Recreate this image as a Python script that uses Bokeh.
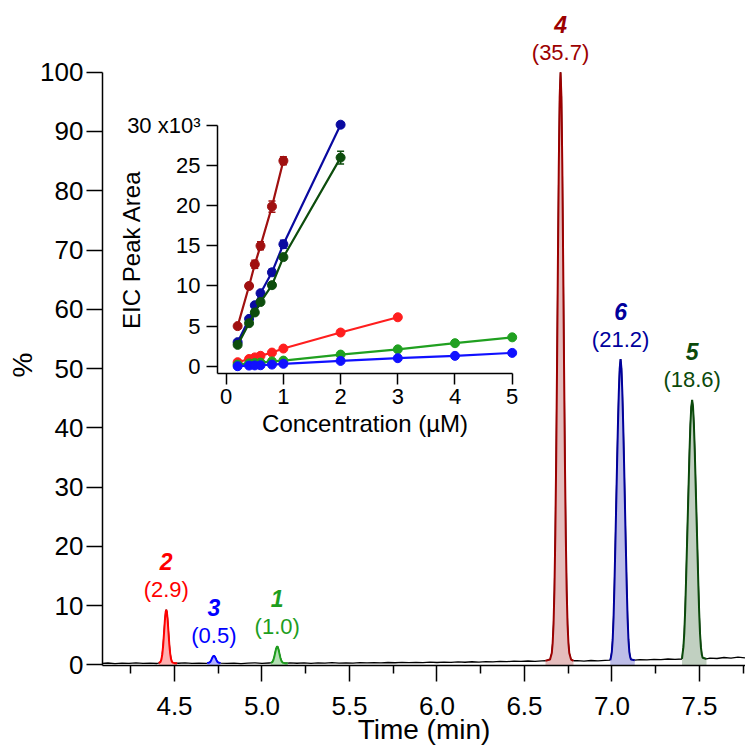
from bokeh.plotting import figure
from bokeh.models import (Range1d, LinearAxis, FixedTicker, ColumnDataSource,
                          PrintfTickFormatter, Title)
from bokeh.core.properties import value
from bokeh.embed import file_html
from bokeh.resources import INLINE

FONT = "Liberation Sans"

# ---------------- chromatogram (main plot) ----------------
base_t = [4.08, 4.12, 4.16, 4.20, 4.24, 4.28, 4.32, 4.36, 4.40, 4.44,
          4.48, 4.52, 4.56, 4.60, 4.64, 4.68, 4.72, 4.76, 4.80, 4.84,
          4.88, 4.92, 4.96, 5.00, 5.04, 5.08, 5.12, 5.16, 5.20, 5.24,
          5.28, 5.32, 5.36, 5.40, 5.44, 5.48, 5.52, 5.56, 5.60, 5.64,
          5.68, 5.72, 5.76, 5.80, 5.84, 5.88, 5.92, 5.96, 6.00, 6.04,
          6.08, 6.12, 6.16, 6.20, 6.24, 6.28, 6.32, 6.36, 6.40, 6.44,
          6.48, 6.52, 6.56, 6.60, 6.64, 6.68, 6.72, 6.76, 6.80, 6.84,
          6.88, 6.92, 6.96, 7.00, 7.04, 7.08, 7.12, 7.16, 7.20, 7.24,
          7.28, 7.32, 7.36, 7.40, 7.44, 7.48, 7.52, 7.56, 7.60, 7.64,
          7.68, 7.72, 7.76]
base_y = [0.25, 0.32, 0.22, 0.30, 0.27, 0.35, 0.26, 0.31, 0.24, 0.30,
          0.30, 0.28, 0.33, 0.25, 0.31, 0.27, 0.30, 0.34, 0.26, 0.31,
          0.23, 0.30, 0.35, 0.27, 0.32, 0.30, 0.30, 0.36, 0.28, 0.33,
          0.26, 0.34, 0.30, 0.37, 0.29, 0.35, 0.31, 0.38, 0.33, 0.40,
          0.34, 0.41, 0.36, 0.43, 0.37, 0.44, 0.39, 0.46, 0.41, 0.48,
          0.43, 0.50, 0.45, 0.53, 0.48, 0.56, 0.52, 0.60, 0.55, 0.65,
          0.58, 0.66, 0.60, 0.68, 0.70, 0.70, 0.70, 0.70, 0.72, 0.65,
          0.74, 0.68, 0.78, 0.80, 0.80, 0.80, 0.82, 0.90, 0.84, 0.95,
          0.88, 1.00, 0.92, 1.00, 1.00, 1.00, 1.05, 1.15, 1.08, 1.25,
          1.15, 1.30, 1.20]

# peak traces (compound 2, 3, 1, 4, 6, 5)
p2_t = [4.41, 4.42, 4.425, 4.43, 4.435, 4.44, 4.445, 4.45, 4.453, 4.456,
        4.46, 4.465, 4.47, 4.475, 4.48, 4.485, 4.49, 4.50, 4.515]
p2_y = [0.3, 0.51, 0.89, 1.73, 3.22, 5.3, 7.5, 9.02, 9.3, 9.02,
        7.9, 5.76, 3.6, 1.98, 1.02, 0.56, 0.38, 0.3, 0.3]
p3_t = [4.687, 4.70, 4.705, 4.71, 4.715, 4.72, 4.725, 4.73, 4.735, 4.74, 4.745, 4.75, 4.763]
p3_y = [0.3, 0.4, 0.54, 0.79, 1.13, 1.43, 1.55, 1.43, 1.13, 0.79, 0.54, 0.4, 0.3]
p1_t = [5.051, 5.06, 5.065, 5.07, 5.075, 5.08, 5.085, 5.087, 5.09, 5.095,
        5.10, 5.105, 5.11, 5.115, 5.12, 5.13, 5.147]
p1_y = [0.33, 0.52, 0.82, 1.33, 2.0, 2.66, 3.06, 3.1, 3.01, 2.54,
        1.86, 1.21, 0.75, 0.48, 0.36, 0.3, 0.3]
p4_t = [6.62, 6.646, 6.656, 6.661, 6.666, 6.671, 6.676, 6.681, 6.686, 6.691,
        6.696, 6.701, 6.706, 6.711, 6.716, 6.721, 6.726, 6.731, 6.736, 6.741,
        6.746, 6.751, 6.756, 6.766, 6.78]
p4_y = [0.7, 0.9, 2.0, 3.7, 6.9, 12.6, 21.7, 34.4, 50.4, 68.0,
        84.2, 95.8, 100.0, 95.8, 84.2, 68.0, 50.4, 34.4, 21.7, 12.6,
        6.9, 3.7, 2.0, 0.9, 0.7]
p6_t = [6.99, 6.994, 6.999, 7.004, 7.009, 7.014, 7.019, 7.024, 7.029, 7.034,
        7.039, 7.044, 7.049, 7.054, 7.059, 7.064, 7.069, 7.074, 7.079, 7.084,
        7.089, 7.094, 7.099, 7.104, 7.109, 7.13]
p6_y = [0.8, 1.3, 2.2, 4.3, 8.0, 13.5, 20.0, 27.0, 34.0, 40.5,
        46.0, 50.0, 51.6, 50.0, 46.0, 40.5, 34.0, 27.0, 20.0, 13.5,
        8.0, 4.3, 2.2, 1.3, 0.9, 0.8]
p5_t = [7.40, 7.403, 7.408, 7.413, 7.418, 7.423, 7.428, 7.433, 7.438, 7.443,
        7.448, 7.453, 7.458, 7.463, 7.468, 7.473, 7.478, 7.483, 7.488, 7.493,
        7.498, 7.503, 7.508, 7.513, 7.518, 7.54]
p5_y = [1.0, 1.8, 3.0, 5.3, 9.0, 14.0, 19.5, 25.0, 30.5, 36.0,
        40.5, 43.5, 44.7, 43.5, 40.5, 36.0, 30.5, 25.0, 19.5, 14.0,
        9.0, 5.3, 3.0, 1.8, 1.2, 1.0]

peak_ids = ["2", "3", "1", "4", "6", "5"]
peak_amounts = ["(2.9)", "(0.5)", "(1.0)", "(35.7)", "(21.2)", "(18.6)"]
peak_colors = ["#ff0000", "#0000ff", "#1e9e1e", "#9c0000", "#00009c", "#0b4a0b"]
peak_fills = ["#ffb0b0", "#b4b4ff", "#b4e0b4", "#e5bdbd", "#bdbde8", "#c1d0c1"]

x_major = [4.5, 5.0, 5.5, 6.0, 6.5, 7.0, 7.5]
x_minor = [4.25, 4.75, 5.25, 5.75, 6.25, 6.75, 7.25, 7.75]
y_ticks = [0, 10, 20, 30, 40, 50, 60, 70, 80, 90, 100]

# ---------------- calibration (inset) ----------------
c4_x = [0.2, 0.4, 0.5, 0.6, 0.8, 1.0]
c4_y = [5.0, 10.0, 12.7, 15.0, 19.9, 25.6]
c4_e = [0.2, 0.3, 0.5, 0.5, 0.7, 0.5]
c6_x = [0.2, 0.4, 0.5, 0.6, 0.8, 1.0, 2.0]
c6_y = [3.0, 5.9, 7.6, 9.1, 11.7, 15.2, 30.1]
c6_e = [0.1, 0.2, 0.2, 0.3, 0.4, 0.5, 0.3]
c5_x = [0.2, 0.4, 0.5, 0.6, 0.8, 1.0, 2.0]
c5_y = [2.66, 5.36, 6.7, 8.0, 10.1, 13.6, 26.0]
c5_e = [0.1, 0.2, 0.3, 0.3, 0.3, 0.3, 0.8]
c2_x = [0.2, 0.4, 0.5, 0.6, 0.8, 1.0, 2.0, 3.0]
c2_y = [0.5, 0.9, 1.1, 1.3, 1.7, 2.2, 4.2, 6.1]
c2_e = [0.05, 0.05, 0.05, 0.05, 0.05, 0.05, 0.1, 0.1]
c1_x = [0.2, 0.4, 0.5, 0.6, 0.8, 1.0, 2.0, 3.0, 4.0, 5.0]
c1_y = [0.2, 0.35, 0.4, 0.45, 0.6, 0.7, 1.45, 2.1, 2.87, 3.6]
c1_e = [0.03, 0.03, 0.03, 0.03, 0.03, 0.03, 0.05, 0.05, 0.05, 0.05]
c3_x = [0.2, 0.4, 0.5, 0.6, 0.8, 1.0, 2.0, 3.0, 4.0, 5.0]
c3_y = [0.0, 0.08, 0.1, 0.12, 0.2, 0.3, 0.66, 1.0, 1.29, 1.66]
c3_e = [0.02, 0.02, 0.02, 0.02, 0.02, 0.02, 0.03, 0.03, 0.03, 0.03]
inset_colors = ["#a01010", "#0a0aa0", "#0d4d0d", "#ff1e1e", "#20a020", "#1010ff"]
inset_x_ticks = [0, 1, 2, 3, 4, 5]
inset_y_ticks = [0, 5, 10, 15, 20, 25, 30]

# ---------------- build ----------------
peaks = [(p2_t, p2_y), (p3_t, p3_y), (p1_t, p1_y), (p4_t, p4_y), (p6_t, p6_y), (p5_t, p5_y)]
windows = [(min(t), max(t)) for t, _ in peaks]
pts = [(t, y) for t, y in zip(base_t, base_y)
       if not any(a <= t <= b for a, b in windows)]
for t, y in peaks:
    pts.extend(zip(t, y))
pts.sort()
trace_t = [q[0] for q in pts]
trace_y = [q[1] for q in pts]

X0, X1 = 4.0886, 7.7629
Y0, Y1 = -0.1, 112.1

p = figure(width=745, height=747,
           x_range=Range1d(X0, X1), y_range=Range1d(Y0, Y1),
           output_backend="svg", toolbar_location=None,
           min_border_left=102, min_border_right=0, min_border_top=0, min_border_bottom=82,
           outline_line_color=None, background_fill_color="white", border_fill_color="white")
p.xgrid.visible = False
p.ygrid.visible = False

p.extra_x_ranges = {"ix": Range1d(-2.1626, 9.0787)}
p.extra_y_ranges = {"iy": Range1d(-37.30, 45.579)}

def style_axis(ax, tick_size, label_size):
    ax.axis_line_width = 1.5
    ax.major_tick_line_width = 1.5
    ax.minor_tick_line_width = 1.5
    ax.axis_line_color = "black"
    ax.major_tick_line_color = "black"
    ax.minor_tick_line_color = "black"
    ax.major_tick_in = 0
    ax.minor_tick_in = 0
    ax.major_label_text_font = FONT
    ax.major_label_text_font_size = tick_size
    ax.major_label_text_color = "black"
    ax.axis_label_text_font = FONT
    ax.axis_label_text_font_size = label_size
    ax.axis_label_text_font_style = "normal"
    ax.axis_label_text_color = "black"

xa = p.xaxis[0]
xa.ticker = FixedTicker(ticks=x_major, minor_ticks=x_minor)
xa.formatter = PrintfTickFormatter(format="%.1f")
xa.axis_label = "Time (min)"
style_axis(xa, "26px", "28px")
xa.major_tick_out = 16
xa.minor_tick_out = 8
xa.major_label_standoff = 15
xa.axis_label_standoff = -4

ya = p.yaxis[0]
ya.ticker = FixedTicker(ticks=y_ticks, minor_ticks=[])
style_axis(ya, "26px", "28px")
ya.major_tick_out = 16
ya.minor_tick_out = 0
ya.major_label_standoff = 3
ya.bounds = (Y0, 100)

# y-axis title, placed beside the 0-100 span of the axis
p.add_layout(Title(text="%", align="left", offset=288, standoff=0,
                   text_font=FONT, text_font_size="28px", text_font_style="normal",
                   text_color="black"), "left")

# trace
p.line(trace_t, trace_y, line_color="black", line_width=1.3)
for (t, y), col, fill in zip(peaks, peak_colors, peak_fills):
    p.varea(x=t, y1=0, y2=y, fill_color=fill, fill_alpha=1.0)
    p.line(t, y, line_color=col, line_width=2)

lab = ColumnDataSource(dict(
    t=[t[y.index(max(y))] for t, y in peaks],
    h=[max(y) for _, y in peaks],
    ids=peak_ids, amt=peak_amounts, col=peak_colors))
p.text(x="t", y="h", text="amt", source=lab, y_offset=-20,
       text_align="center", text_baseline="middle", text_color="col",
       text_font=value(FONT), text_font_size="22px")
p.text(x="t", y="h", text="ids", source=lab, y_offset=-48,
       text_align="center", text_baseline="middle", text_color="col",
       text_font=value(FONT), text_font_size="23px", text_font_style="bold italic")

# inset
series = [(c4_x, c4_y, c4_e), (c6_x, c6_y, c6_e), (c5_x, c5_y, c5_e),
          (c2_x, c2_y, c2_e), (c1_x, c1_y, c1_e), (c3_x, c3_y, c3_e)]
for (x, y, e), col in zip(series, inset_colors):
    lo = [a - b for a, b in zip(y, e)]
    hi = [a + b for a, b in zip(y, e)]
    kw = dict(x_range_name="ix", y_range_name="iy")
    p.line(x, y, line_color=col, line_width=2.2, **kw)
    p.segment(x0=x, y0=lo, x1=x, y1=hi, line_color=col, line_width=1.5, **kw)
    p.scatter(x + x, lo + hi, marker="dash", size=7, line_color=col, line_width=1.5, **kw)
    p.scatter(x, y, marker="circle", size=9, fill_color=col, line_color=col, **kw)

iya = LinearAxis(x_range_name="ix", y_range_name="iy", fixed_location=-0.152,
                 bounds=(-0.87, 30),
                 ticker=FixedTicker(ticks=inset_y_ticks, minor_ticks=[]),
                 axis_label="EIC Peak Area",
                 major_label_overrides={30: "30 x10\u00b3"})
style_axis(iya, "22px", "24px")
iya.major_tick_out = 11
iya.minor_tick_out = 0
iya.major_label_standoff = 6
iya.axis_label_standoff = -21
p.add_layout(iya, "left")

ixa = LinearAxis(x_range_name="ix", y_range_name="iy", fixed_location=-0.87,
                 bounds=(-0.152, 5),
                 ticker=FixedTicker(ticks=inset_x_ticks, minor_ticks=[]),
                 axis_label="Concentration (\u00b5M)")
style_axis(ixa, "22px", "24px")
ixa.major_tick_out = 11
ixa.minor_tick_out = 0
ixa.major_label_standoff = 5
ixa.axis_label_standoff = 2
p.add_layout(ixa, "below")

open("out.html", "w").write(file_html(p, INLINE))
